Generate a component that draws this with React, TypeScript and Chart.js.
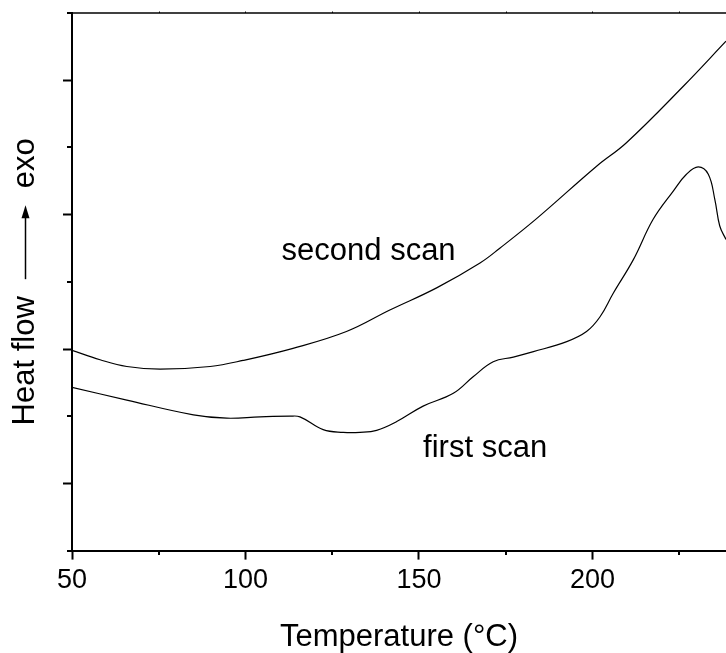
import React, { useEffect, useRef } from "react";
import { Chart, registerables } from "chart.js";

Chart.register(...registerables);

// Temperature (°C) and heat flow (arbitrary units)
const secondScanT = [50, 58.1, 65.8, 75.4, 89.8, 99.3, 113.7, 129.1, 141.6, 155.1, 167.6, 173.3, 183.9, 201.2, 209.8, 226.2, 238.5];
const secondScanHF = [2.98, 2.84, 2.74, 2.7, 2.74, 2.83, 3.01, 3.26, 3.58, 3.91, 4.28, 4.5, 4.94, 5.72, 6.07, 6.91, 7.58];

const firstScanT = [50, 65.8, 85.0, 94.6, 104.2, 112.8, 115.7, 122.4, 128.2, 133.0, 137.8, 143.6, 151.2, 159.9, 165.7, 171.4, 177.2, 183.0, 192.6, 198.3, 202.2, 206.0, 211.8, 217.5, 223.3, 227.1, 230.5, 233.4, 235.3, 236.7, 238.5];
const firstScanHF = [2.43, 2.24, 2.02, 1.97, 1.99, 2.0, 1.99, 1.8, 1.76, 1.76, 1.79, 1.92, 2.15, 2.34, 2.59, 2.81, 2.88, 2.96, 3.11, 3.26, 3.48, 3.83, 4.33, 4.93, 5.35, 5.6, 5.71, 5.6, 5.22, 4.83, 4.63];

const xMajorTicks = [50, 100, 150, 200];
const xMinorTicks = [75, 125, 175, 225];
const xTopTicks = [75, 100, 125, 150, 175, 200, 225];
const yMajorTicks = [1, 3, 5, 7];
const yMinorTicks = [0, 2, 4, 6, 8];

const xMin = 50;
const xMax = 238.5;
const yMin = 0;
const yMax = 8;

const seriesLabels = ["second scan", "first scan"];
const labelPositions = [
  { t: 110.4, hf: 4.33 },
  { t: 151.2, hf: 1.4 },
];
const xTitle = "Temperature (°C)";
const yTitleLeft = "Heat flow";
const yTitleRight = "exo";

const FONT = "'Liberation Sans', Arial, Helvetica, sans-serif";

const decorPlugin = {
  id: "decor",
  afterDraw(chart: any) {
    const { ctx, chartArea, scales } = chart;
    const xs = scales.x;
    const ys = scales.y;
    ctx.save();
    ctx.strokeStyle = "#000";
    ctx.fillStyle = "#000";
    // top border
    ctx.lineWidth = 1.5;
    ctx.beginPath();
    ctx.moveTo(chartArea.left, chartArea.top);
    ctx.lineTo(chartArea.right, chartArea.top);
    ctx.stroke();
    // tiny top ticks
    ctx.lineWidth = 1;
    xTopTicks.forEach((v) => {
      const px = Math.round(xs.getPixelForValue(v)) + 0.5;
      ctx.beginPath();
      ctx.moveTo(px, chartArea.top);
      ctx.lineTo(px, chartArea.top - 1.5);
      ctx.stroke();
    });
    // minor x ticks
    ctx.lineWidth = 2;
    xMinorTicks.forEach((v) => {
      const px = Math.round(xs.getPixelForValue(v));
      ctx.beginPath();
      ctx.moveTo(px, chartArea.bottom);
      ctx.lineTo(px, chartArea.bottom + 4.5);
      ctx.stroke();
    });
    // minor y ticks
    yMinorTicks.forEach((v) => {
      const py = Math.round(ys.getPixelForValue(v));
      ctx.beginPath();
      ctx.moveTo(chartArea.left, py);
      ctx.lineTo(chartArea.left - 5, py);
      ctx.stroke();
    });
    // series labels
    ctx.font = `31px ${FONT}`;
    ctx.textAlign = "left";
    ctx.textBaseline = "alphabetic";
    seriesLabels.forEach((s, i) => {
      const p = labelPositions[i];
      ctx.fillText(s, xs.getPixelForValue(p.t), ys.getPixelForValue(p.hf));
    });
    // y-axis title with arrow
    const cy = (chartArea.top + chartArea.bottom) / 2;
    const baseX = 34;
    ctx.translate(baseX, cy);
    ctx.rotate(-Math.PI / 2);
    const w1 = ctx.measureText(yTitleLeft).width;
    const w2 = ctx.measureText(yTitleRight).width;
    const gap = 17;
    const arrowLen = 74;
    const total = w1 + gap + arrowLen + gap + w2;
    let x0 = -total / 2;
    ctx.fillText(yTitleLeft, x0, 0);
    x0 += w1 + gap;
    const ay = -8.5;
    ctx.lineWidth = 1.5;
    ctx.beginPath();
    ctx.moveTo(x0, ay);
    ctx.lineTo(x0 + arrowLen - 10, ay);
    ctx.stroke();
    ctx.beginPath();
    ctx.moveTo(x0 + arrowLen, ay);
    ctx.lineTo(x0 + arrowLen - 13, ay - 4);
    ctx.lineTo(x0 + arrowLen - 13, ay + 4);
    ctx.closePath();
    ctx.fill();
    x0 += arrowLen + gap;
    ctx.fillText(yTitleRight, x0, 0);
    ctx.restore();
  },
};

export default function App() {
  const ref = useRef<HTMLCanvasElement | null>(null);
  useEffect(() => {
    document.body.style.margin = "0";
    const canvas = ref.current;
    if (!canvas) return;
    const chart = new Chart(canvas, {
      type: "line",
      data: {
        datasets: [
          {
            label: seriesLabels[0],
            data: secondScanT.map((t, i) => ({ x: t, y: secondScanHF[i] })),
            borderColor: "#000",
            borderWidth: 1.2,
            pointRadius: 0,
            tension: 0.4,
            fill: false,
          },
          {
            label: seriesLabels[1],
            data: firstScanT.map((t, i) => ({ x: t, y: firstScanHF[i] })),
            borderColor: "#000",
            borderWidth: 1.2,
            pointRadius: 0,
            tension: 0.4,
            fill: false,
          },
        ],
      },
      options: {
        animation: false,
        responsive: false,
        devicePixelRatio: 1,
        layout: { padding: { left: 63, top: 13, right: 0, bottom: 0 } },
        plugins: {
          legend: { display: false },
          tooltip: { enabled: false },
        },
        scales: {
          x: {
            type: "linear",
            min: xMin,
            max: xMax,
            afterBuildTicks: (axis: any) => {
              axis.ticks = xMajorTicks.map((v) => ({ value: v }));
            },
            grid: {
              display: true,
              drawOnChartArea: false,
              drawTicks: true,
              tickLength: 9,
              tickWidth: 2,
              tickColor: "#000",
            },
            border: { display: true, color: "#000", width: 2 },
            ticks: {
              color: "#000",
              font: { family: FONT, size: 27 },
              padding: 5,
              maxRotation: 0,
              autoSkip: false,
            },
            title: {
              display: true,
              text: xTitle,
              color: "#000",
              font: { family: FONT, size: 31, lineHeight: 1.0 },
              padding: { top: 20, bottom: 0 },
            },
          },
          y: {
            type: "linear",
            min: yMin,
            max: yMax,
            afterBuildTicks: (axis: any) => {
              axis.ticks = yMajorTicks.map((v) => ({ value: v }));
            },
            grid: {
              display: true,
              drawOnChartArea: false,
              drawTicks: true,
              tickLength: 9,
              tickWidth: 2,
              tickColor: "#000",
            },
            border: { display: true, color: "#000", width: 2 },
            ticks: { display: false },
          },
        },
      },
      plugins: [decorPlugin],
    });
    return () => chart.destroy();
  }, []);
  return (
    <div style={{ width: 726, height: 653 }}>
      <canvas ref={ref} width={726} height={653} style={{ display: "block" }} />
    </div>
  );
}
